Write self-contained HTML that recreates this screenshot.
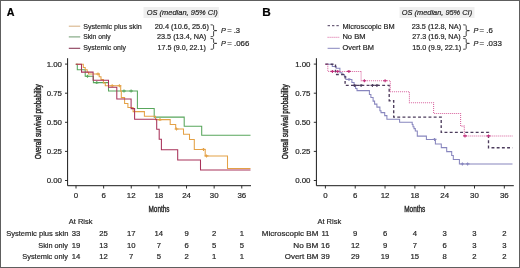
<!DOCTYPE html>
<html><head><meta charset="utf-8"><style>
html,body{margin:0;padding:0;background:#fff;}
body{width:520px;height:268px;overflow:hidden;}
svg{display:block;will-change:transform;}
text{font-family:"Liberation Sans", sans-serif;fill:#262626;stroke:#262626;stroke-width:0.2px;}
</style></head><body>
<svg width="520" height="268" viewBox="0 0 520 268">
<rect x="0" y="0" width="520" height="268" fill="#fff"/>
<path d="M75.8,64.2 H77.3 V69.8 H85.2 V76.3 H93.4 V82.6 H108.5 V91.0 H137.4 V108.5 H154.2 V117.1 H184.2 V126.3 H201.7 V135.2 H250.5" stroke-width="1.05" stroke="#58a65c" fill="none"/>
<path d="M87.5,74.80 V77.80 M85.60,76.3 H89.40 M96.8,81.10 V84.10 M94.90,82.6 H98.70 M124,89.50 V92.50 M122.10,91.0 H125.90 M131.1,89.50 V92.50 M129.20,91.0 H133.00" stroke="#58a65c" stroke-width="1.1" fill="none"/>
<path d="M75.8,64.2 H83.3 V67.5 H85.2 V69.8 H87.2 V72.2 H88.5 V74.0 H99.2 V76.8 H101.0 V79.6 H103.4 V82.9 H105.3 V85.8 H120.7 V91.1 H121.3 V97.6 H124.6 V103.5 H127.9 V107.4 H133.1 V111.6 H144.4 V116.3 H155.5 V119.6 H170.2 V124.4 H175.7 V129.0 H183.5 V134.2 H189.5 V139.4 H194.3 V149.4 H205.2 V155.9 H227.5 V168.4 H250.5" stroke-width="1.05" stroke="#e4a146" fill="none"/>
<path d="M98,72.50 V75.50 M96.10,74.0 H99.90 M112.2,84.30 V87.30 M110.30,85.8 H114.10 M119.4,84.30 V87.30 M117.50,85.8 H121.30 M160,118.10 V121.10 M158.10,119.6 H161.90 M176.5,127.50 V130.50 M174.60,129.0 H178.40 M203.5,147.90 V150.90 M201.60,149.4 H205.40 M206.5,154.40 V157.40 M204.60,155.9 H208.40" stroke="#e4a146" stroke-width="1.1" fill="none"/>
<path d="M75.8,64.2 H81.5 V72.1 H93.1 V80.2 H108.5 V87.3 H116.8 V98.9 H131.1 V108.6 H134.6 V119.3 H156.7 V129.2 H159.2 V139.3 H161.4 V149.8 H177.7 V159.9 H200.5 V169.9 H250.5" stroke-width="1.05" stroke="#a8325a" fill="none"/>
<path d="M325.4,64.2 H332.3 V66.5 H336.2 V68.2 H339.9 V72.7 H342 V74.5 H344.4 V76.4 H345.9 V79.4 H351.9 V82.4 H354.1 V86.1 H355.6 V88.4 H357 V90.6 H369.4 V94.4 H370.9 V97.4 H373.1 V101.1 H374.6 V104.1 H376.9 V107.1 H379.9 V110.8 H381 V112.6 H384.7 V115.6 H386.9 V119.3 H399.6 V122.3 H412.2 V124.4 H413 V126.7 H414 V128.6 H415.3 V131 H417.3 V136.1 H426.4 V139.4 H435.4 V143.9 H441.3 V147.6 H446.7 V151.6 H451.7 V155.5 H453.3 V159.4 H459.4 V163.9 H512.5" stroke-width="1.05" stroke="#8886be" fill="none"/>
<path d="M349,77.90 V80.90 M347.10,79.4 H350.90 M434.6,137.90 V140.90 M432.70,139.4 H436.50 M462.4,162.40 V165.40 M460.50,163.9 H464.30 M467.6,162.40 V165.40 M465.70,163.9 H469.50" stroke="#8886be" stroke-width="1.1" fill="none"/>
<path d="M325.4,64.2 H335.5 V74.5 H345.1 V85.4 H389.2 V100.7 H393.7 V117.1 H441.2 V132.3 H488.5 V147.7 H512.5" stroke="#4c3c5c" stroke-width="1.35" fill="none" stroke-dasharray="2.9,2.3"/>
<path d="M354.8,83.90 V86.90 M352.90,85.4 H356.70 M361.1,83.90 V86.90 M359.20,85.4 H363.00 M372.4,83.90 V86.90 M370.50,85.4 H374.30 M376.9,83.90 V86.90 M375.00,85.4 H378.80" stroke="#4c3c5c" stroke-width="1.1" fill="none"/>
<path d="M325.4,64.2 H327.8 V71.4 H361.1 V80.7 H390.3 V91.7 H409.4 V102.7 H433.6 V113.4 H460.6 V126.1 H464.3 V135.9 H512.5" stroke-width="1.05" stroke="#d8609c" fill="none" stroke-dasharray="1,1"/>
<path d="M332.4,69.90 V72.90 M330.50,71.4 H334.30 M337.7,69.90 V72.90 M335.80,71.4 H339.60 M348.9,69.90 V72.90 M347.00,71.4 H350.80 M364.4,79.20 V82.20 M362.50,80.7 H366.30 M385.1,79.20 V82.20 M383.20,80.7 H387.00 M465,134.40 V137.40 M463.10,135.9 H466.90 M488.5,134.40 V137.40 M486.60,135.9 H490.40" stroke="#c0307c" stroke-width="1.1" fill="none"/>
<path d="M67.6,58.2 V185.7 H251.0" fill="none" stroke="#1a1a1a" stroke-width="1"/>
<line x1="65.0" y1="64.10" x2="67.6" y2="64.10" stroke="#1a1a1a" stroke-width="0.9"/>
<text x="62.00" y="66.50" font-size="7.9" text-anchor="end" >1.00</text>
<line x1="65.0" y1="93.20" x2="67.6" y2="93.20" stroke="#1a1a1a" stroke-width="0.9"/>
<text x="62.00" y="95.60" font-size="7.9" text-anchor="end" >0.75</text>
<line x1="65.0" y1="122.30" x2="67.6" y2="122.30" stroke="#1a1a1a" stroke-width="0.9"/>
<text x="62.00" y="124.70" font-size="7.9" text-anchor="end" >0.50</text>
<line x1="65.0" y1="151.40" x2="67.6" y2="151.40" stroke="#1a1a1a" stroke-width="0.9"/>
<text x="62.00" y="153.80" font-size="7.9" text-anchor="end" >0.25</text>
<line x1="65.0" y1="180.50" x2="67.6" y2="180.50" stroke="#1a1a1a" stroke-width="0.9"/>
<text x="62.00" y="182.90" font-size="7.9" text-anchor="end" >0.00</text>
<line x1="76.00" y1="185.7" x2="76.00" y2="188.5" stroke="#1a1a1a" stroke-width="0.9"/>
<text x="76.00" y="198.20" font-size="7.9" text-anchor="middle" >0</text>
<line x1="103.63" y1="185.7" x2="103.63" y2="188.5" stroke="#1a1a1a" stroke-width="0.9"/>
<text x="103.63" y="198.20" font-size="7.9" text-anchor="middle" >6</text>
<line x1="131.26" y1="185.7" x2="131.26" y2="188.5" stroke="#1a1a1a" stroke-width="0.9"/>
<text x="131.26" y="198.20" font-size="7.9" text-anchor="middle" >12</text>
<line x1="158.89" y1="185.7" x2="158.89" y2="188.5" stroke="#1a1a1a" stroke-width="0.9"/>
<text x="158.89" y="198.20" font-size="7.9" text-anchor="middle" >18</text>
<line x1="186.52" y1="185.7" x2="186.52" y2="188.5" stroke="#1a1a1a" stroke-width="0.9"/>
<text x="186.52" y="198.20" font-size="7.9" text-anchor="middle" >24</text>
<line x1="214.15" y1="185.7" x2="214.15" y2="188.5" stroke="#1a1a1a" stroke-width="0.9"/>
<text x="214.15" y="198.20" font-size="7.9" text-anchor="middle" >30</text>
<line x1="241.78" y1="185.7" x2="241.78" y2="188.5" stroke="#1a1a1a" stroke-width="0.9"/>
<text x="241.78" y="198.20" font-size="7.9" text-anchor="middle" >36</text>
<text x="148.49" y="211.60" font-size="8.8" textLength="21.03" lengthAdjust="spacingAndGlyphs" style="stroke-width:0.38px">Months</text>
<text x="0" y="0" font-size="8.6" textLength="75.10" lengthAdjust="spacingAndGlyphs" style="stroke-width:0.42px" transform="translate(41.00,159.29) rotate(-90)">Overall survival probability</text>
<path d="M316.4,58.2 V185.7 H513.8" fill="none" stroke="#1a1a1a" stroke-width="1"/>
<line x1="313.79999999999995" y1="64.10" x2="316.4" y2="64.10" stroke="#1a1a1a" stroke-width="0.9"/>
<text x="310.50" y="66.50" font-size="7.9" text-anchor="end" >1.00</text>
<line x1="313.79999999999995" y1="93.20" x2="316.4" y2="93.20" stroke="#1a1a1a" stroke-width="0.9"/>
<text x="310.50" y="95.60" font-size="7.9" text-anchor="end" >0.75</text>
<line x1="313.79999999999995" y1="122.30" x2="316.4" y2="122.30" stroke="#1a1a1a" stroke-width="0.9"/>
<text x="310.50" y="124.70" font-size="7.9" text-anchor="end" >0.50</text>
<line x1="313.79999999999995" y1="151.40" x2="316.4" y2="151.40" stroke="#1a1a1a" stroke-width="0.9"/>
<text x="310.50" y="153.80" font-size="7.9" text-anchor="end" >0.25</text>
<line x1="313.79999999999995" y1="180.50" x2="316.4" y2="180.50" stroke="#1a1a1a" stroke-width="0.9"/>
<text x="310.50" y="182.90" font-size="7.9" text-anchor="end" >0.00</text>
<line x1="325.40" y1="185.7" x2="325.40" y2="188.5" stroke="#1a1a1a" stroke-width="0.9"/>
<text x="325.40" y="198.20" font-size="7.9" text-anchor="middle" >0</text>
<line x1="355.22" y1="185.7" x2="355.22" y2="188.5" stroke="#1a1a1a" stroke-width="0.9"/>
<text x="355.22" y="198.20" font-size="7.9" text-anchor="middle" >6</text>
<line x1="385.04" y1="185.7" x2="385.04" y2="188.5" stroke="#1a1a1a" stroke-width="0.9"/>
<text x="385.04" y="198.20" font-size="7.9" text-anchor="middle" >12</text>
<line x1="414.86" y1="185.7" x2="414.86" y2="188.5" stroke="#1a1a1a" stroke-width="0.9"/>
<text x="414.86" y="198.20" font-size="7.9" text-anchor="middle" >18</text>
<line x1="444.68" y1="185.7" x2="444.68" y2="188.5" stroke="#1a1a1a" stroke-width="0.9"/>
<text x="444.68" y="198.20" font-size="7.9" text-anchor="middle" >24</text>
<line x1="474.50" y1="185.7" x2="474.50" y2="188.5" stroke="#1a1a1a" stroke-width="0.9"/>
<text x="474.50" y="198.20" font-size="7.9" text-anchor="middle" >30</text>
<line x1="504.32" y1="185.7" x2="504.32" y2="188.5" stroke="#1a1a1a" stroke-width="0.9"/>
<text x="504.32" y="198.20" font-size="7.9" text-anchor="middle" >36</text>
<text x="404.29" y="211.60" font-size="8.8" textLength="21.03" lengthAdjust="spacingAndGlyphs" style="stroke-width:0.38px">Months</text>
<text x="0" y="0" font-size="8.6" textLength="74.90" lengthAdjust="spacingAndGlyphs" style="stroke-width:0.42px" transform="translate(288.40,159.29) rotate(-90)">Overall survival probability</text>
<text x="6.83" y="15.80" font-size="10.9" textLength="7.76" lengthAdjust="spacingAndGlyphs" font-weight="bold" style="fill:#000;stroke:#000">A</text>
<line x1="68.8" y1="26.2" x2="80.2" y2="26.2" stroke="#d8b48a" stroke-width="1.1" />
<line x1="68.8" y1="36.9" x2="80.2" y2="36.9" stroke="#7aa27b" stroke-width="1.1" />
<line x1="68.8" y1="48.3" x2="80.2" y2="48.3" stroke="#8a3a58" stroke-width="1.1" />
<text x="83.18" y="28.50" font-size="7.6" textLength="58.53" lengthAdjust="spacingAndGlyphs" >Systemic plus skin</text>
<text x="83.20" y="39.40" font-size="7.6" textLength="27.39" lengthAdjust="spacingAndGlyphs" >Skin only</text>
<text x="83.19" y="50.40" font-size="7.6" textLength="42.80" lengthAdjust="spacingAndGlyphs" >Systemic only</text>
<rect x="143.5" y="7.0" width="75.4" height="11.0" fill="#efefef"/>
<text x="146.69" y="15.40" font-size="7.7" textLength="71.05" lengthAdjust="spacingAndGlyphs" font-style="italic" >OS (median, 95% CI)</text>
<text x="154.63" y="28.50" font-size="7.6" textLength="54.24" lengthAdjust="spacingAndGlyphs" >20.4 (10.6, 25.6)</text>
<text x="157.04" y="39.40" font-size="7.6" textLength="49.21" lengthAdjust="spacingAndGlyphs" >23.5 (13.4, NA)</text>
<text x="157.57" y="50.40" font-size="7.6" textLength="48.28" lengthAdjust="spacingAndGlyphs" >17.5 (9.0, 22.1)</text>
<path d="M210.60,24.8 Q213.60,24.8 213.60,25.60 V29.80 Q213.60,30.6 216.80,30.6 M216.80,30.6 Q213.60,30.6 213.60,31.40 V35.90 Q213.60,36.7 210.60,36.7" fill="none" stroke="#333" stroke-width="0.9"/>
<path d="M210.60,38.5 Q213.60,38.5 213.60,39.30 V42.60 Q213.60,43.4 216.80,43.4 M216.80,43.4 Q213.60,43.4 213.60,44.20 V48.50 Q213.60,49.3 210.60,49.3" fill="none" stroke="#333" stroke-width="0.9"/>
<text x="221.08" y="33.20" font-size="7.6" textLength="4.87" lengthAdjust="spacingAndGlyphs" font-style="italic" >P</text>
<text x="227.22" y="33.20" font-size="7.6" textLength="12.89" lengthAdjust="spacingAndGlyphs" >= .3</text>
<text x="221.08" y="45.90" font-size="7.6" textLength="4.87" lengthAdjust="spacingAndGlyphs" font-style="italic" >P</text>
<text x="227.21" y="45.90" font-size="7.6" textLength="22.13" lengthAdjust="spacingAndGlyphs" >= .066</text>
<text x="262.23" y="15.80" font-size="10.9" textLength="8.52" lengthAdjust="spacingAndGlyphs" font-weight="bold" style="fill:#000;stroke:#000">B</text>
<line x1="327.6" y1="25.7" x2="339.8" y2="25.7" stroke="#4c3c5c" stroke-width="1.0" stroke-dasharray="2.4,2"/>
<line x1="327.6" y1="37.3" x2="339.8" y2="37.3" stroke="#d8609c" stroke-width="1.0" stroke-dasharray="1,1"/>
<line x1="327.6" y1="48.3" x2="339.8" y2="48.3" stroke="#8886be" stroke-width="1.0" />
<text x="342.41" y="28.50" font-size="7.6" textLength="52.20" lengthAdjust="spacingAndGlyphs" >Microscopic BM</text>
<text x="342.39" y="39.40" font-size="7.6" textLength="23.12" lengthAdjust="spacingAndGlyphs" >No BM</text>
<text x="342.41" y="50.40" font-size="7.6" textLength="31.45" lengthAdjust="spacingAndGlyphs" >Overt BM</text>
<rect x="399.5" y="7.0" width="75.0" height="11.0" fill="#efefef"/>
<text x="401.79" y="15.40" font-size="7.7" textLength="70.34" lengthAdjust="spacingAndGlyphs" font-style="italic" >OS (median, 95% CI)</text>
<text x="411.74" y="28.50" font-size="7.6" textLength="49.41" lengthAdjust="spacingAndGlyphs" >23.5 (12.8, NA)</text>
<text x="412.34" y="39.40" font-size="7.6" textLength="48.19" lengthAdjust="spacingAndGlyphs" >27.3 (16.9, NA)</text>
<text x="412.16" y="50.40" font-size="7.6" textLength="49.09" lengthAdjust="spacingAndGlyphs" >15.0 (9.9, 22.1)</text>
<path d="M463.20,24.8 Q466.20,24.8 466.20,25.60 V29.80 Q466.20,30.6 469.40,30.6 M469.40,30.6 Q466.20,30.6 466.20,31.40 V35.90 Q466.20,36.7 463.20,36.7" fill="none" stroke="#333" stroke-width="0.9"/>
<path d="M463.20,38.5 Q466.20,38.5 466.20,39.30 V42.60 Q466.20,43.4 469.40,43.4 M469.40,43.4 Q466.20,43.4 466.20,44.20 V48.50 Q466.20,49.3 463.20,49.3" fill="none" stroke="#333" stroke-width="0.9"/>
<text x="473.48" y="33.20" font-size="7.6" textLength="4.87" lengthAdjust="spacingAndGlyphs" font-style="italic" >P</text>
<text x="479.61" y="33.20" font-size="7.6" textLength="13.21" lengthAdjust="spacingAndGlyphs" >= .6</text>
<text x="473.48" y="45.90" font-size="7.6" textLength="4.87" lengthAdjust="spacingAndGlyphs" font-style="italic" >P</text>
<text x="479.60" y="45.90" font-size="7.6" textLength="22.24" lengthAdjust="spacingAndGlyphs" >= .033</text>
<text x="68.80" y="223.70" font-size="7.4" textLength="23.62" lengthAdjust="spacingAndGlyphs" >At Risk</text>
<text x="6.16" y="235.60" font-size="7.4" textLength="62.23" lengthAdjust="spacingAndGlyphs" >Systemic plus skin</text>
<text x="76.00" y="235.60" font-size="7.7" text-anchor="middle" >33</text>
<text x="103.63" y="235.60" font-size="7.7" text-anchor="middle" >25</text>
<text x="131.26" y="235.60" font-size="7.7" text-anchor="middle" >17</text>
<text x="158.89" y="235.60" font-size="7.7" text-anchor="middle" >14</text>
<text x="186.52" y="235.60" font-size="7.7" text-anchor="middle" >9</text>
<text x="214.15" y="235.60" font-size="7.7" text-anchor="middle" >2</text>
<text x="241.78" y="235.60" font-size="7.7" text-anchor="middle" >1</text>
<text x="38.37" y="247.50" font-size="7.4" textLength="29.51" lengthAdjust="spacingAndGlyphs" >Skin only</text>
<text x="76.00" y="247.50" font-size="7.7" text-anchor="middle" >19</text>
<text x="103.63" y="247.50" font-size="7.7" text-anchor="middle" >13</text>
<text x="131.26" y="247.50" font-size="7.7" text-anchor="middle" >10</text>
<text x="158.89" y="247.50" font-size="7.7" text-anchor="middle" >7</text>
<text x="186.52" y="247.50" font-size="7.7" text-anchor="middle" >6</text>
<text x="214.15" y="247.50" font-size="7.7" text-anchor="middle" >5</text>
<text x="241.78" y="247.50" font-size="7.7" text-anchor="middle" >5</text>
<text x="22.27" y="259.30" font-size="7.4" textLength="45.62" lengthAdjust="spacingAndGlyphs" >Systemic only</text>
<text x="76.00" y="259.30" font-size="7.7" text-anchor="middle" >14</text>
<text x="103.63" y="259.30" font-size="7.7" text-anchor="middle" >12</text>
<text x="131.26" y="259.30" font-size="7.7" text-anchor="middle" >7</text>
<text x="158.89" y="259.30" font-size="7.7" text-anchor="middle" >5</text>
<text x="186.52" y="259.30" font-size="7.7" text-anchor="middle" >2</text>
<text x="214.15" y="259.30" font-size="7.7" text-anchor="middle" >1</text>
<text x="241.78" y="259.30" font-size="7.7" text-anchor="middle" >1</text>
<text x="317.50" y="223.70" font-size="7.4" textLength="23.62" lengthAdjust="spacingAndGlyphs" >At Risk</text>
<text x="261.86" y="235.60" font-size="7.4" textLength="56.50" lengthAdjust="spacingAndGlyphs" >Microscopic BM</text>
<text x="325.40" y="235.60" font-size="7.7" text-anchor="middle" >11</text>
<text x="355.22" y="235.60" font-size="7.7" text-anchor="middle" >9</text>
<text x="385.04" y="235.60" font-size="7.7" text-anchor="middle" >6</text>
<text x="414.86" y="235.60" font-size="7.7" text-anchor="middle" >4</text>
<text x="444.68" y="235.60" font-size="7.7" text-anchor="middle" >3</text>
<text x="474.50" y="235.60" font-size="7.7" text-anchor="middle" >3</text>
<text x="504.32" y="235.60" font-size="7.7" text-anchor="middle" >2</text>
<text x="293.35" y="247.50" font-size="7.4" textLength="25.02" lengthAdjust="spacingAndGlyphs" >No BM</text>
<text x="325.40" y="247.50" font-size="7.7" text-anchor="middle" >16</text>
<text x="355.22" y="247.50" font-size="7.7" text-anchor="middle" >12</text>
<text x="385.04" y="247.50" font-size="7.7" text-anchor="middle" >9</text>
<text x="414.86" y="247.50" font-size="7.7" text-anchor="middle" >7</text>
<text x="444.68" y="247.50" font-size="7.7" text-anchor="middle" >6</text>
<text x="474.50" y="247.50" font-size="7.7" text-anchor="middle" >3</text>
<text x="504.32" y="247.50" font-size="7.7" text-anchor="middle" >3</text>
<text x="284.74" y="259.30" font-size="7.4" textLength="33.62" lengthAdjust="spacingAndGlyphs" >Overt BM</text>
<text x="325.40" y="259.30" font-size="7.7" text-anchor="middle" >39</text>
<text x="355.22" y="259.30" font-size="7.7" text-anchor="middle" >29</text>
<text x="385.04" y="259.30" font-size="7.7" text-anchor="middle" >19</text>
<text x="414.86" y="259.30" font-size="7.7" text-anchor="middle" >15</text>
<text x="444.68" y="259.30" font-size="7.7" text-anchor="middle" >8</text>
<text x="474.50" y="259.30" font-size="7.7" text-anchor="middle" >2</text>
<text x="504.32" y="259.30" font-size="7.7" text-anchor="middle" >2</text>
<rect x="0.5" y="0.5" width="519" height="267" fill="none" stroke="#5e5e5e" stroke-width="1"/>
</svg>
</body></html>
